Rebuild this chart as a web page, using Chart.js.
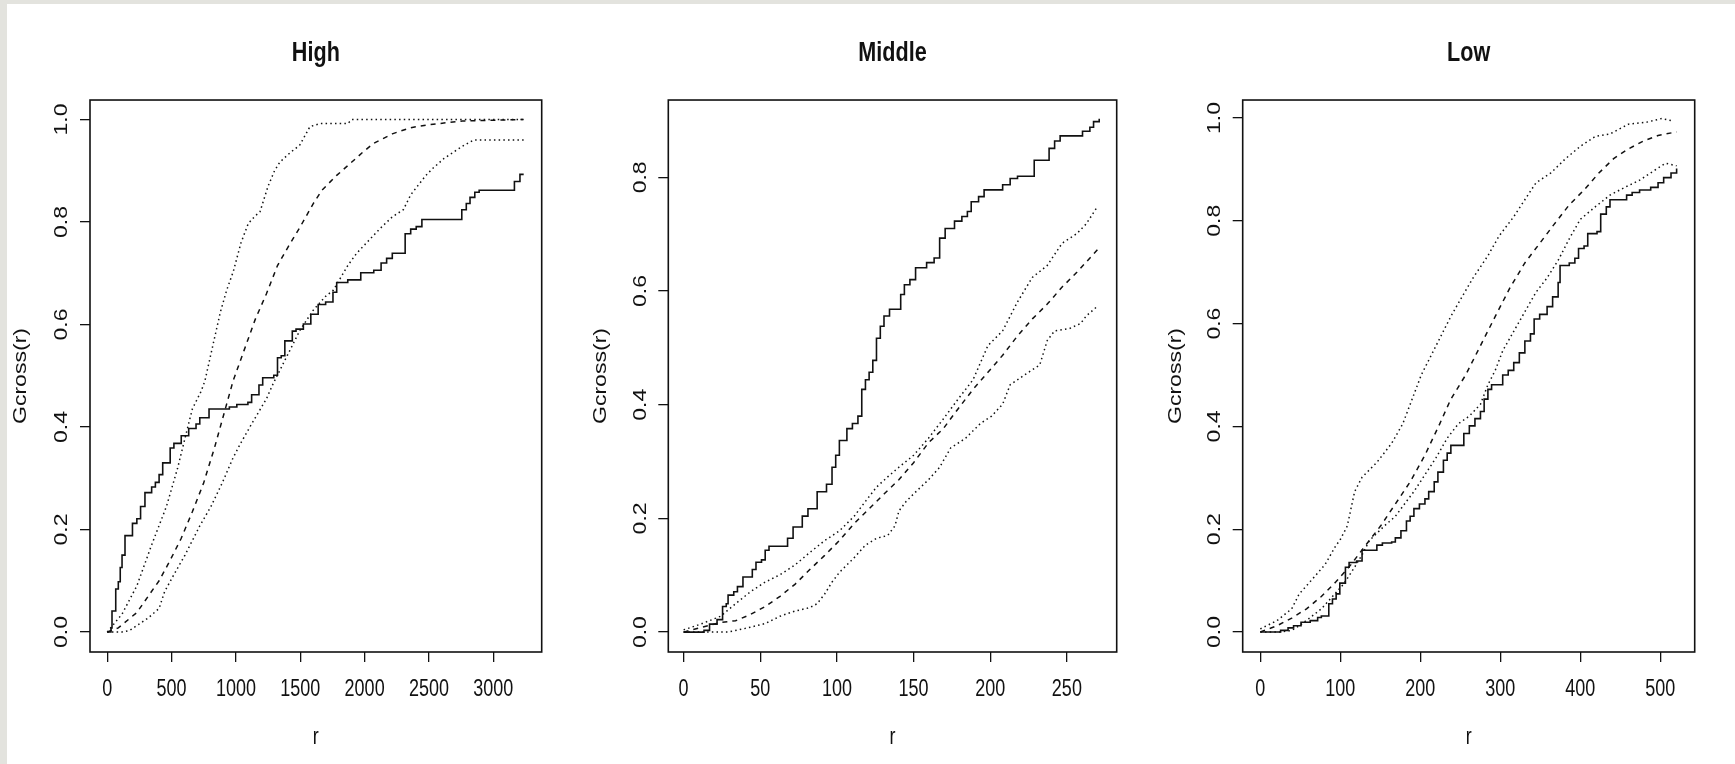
<!DOCTYPE html>
<html lang="en">
<head>
  <meta charset="UTF-8">
  <title>Gcross(r) envelopes</title>
  <style>
    html, body {
      margin: 0;
      padding: 0;
    }
    body {
      width: 1735px;
      height: 764px;
      background: #e3e3de; /* window frame grey */
      position: relative;
      overflow: hidden;
    }
    .sheet {
      position: absolute;
      left: 7px;
      top: 4px;
      right: 0;
      bottom: 0;
      background: #ffffff;
    }
    canvas {
      position: absolute;
      top: 0;
    }
  </style>
</head>
<body>
  <div class="sheet"></div>
  <canvas id="high" width="578" height="764" style="left:0px"></canvas>
  <canvas id="middle" width="578" height="764" style="left:578px"></canvas>
  <canvas id="low" width="579" height="764" style="left:1156px"></canvas>

  <script src="https://cdn.jsdelivr.net/npm/chart.js"></script>
  <script>
    // tick values
    const highXTicks = [0, 500, 1000, 1500, 2000, 2500, 3000];
    const midXTicks = [0, 50, 100, 150, 200, 250];
    const lowXTicks = [0, 100, 200, 300, 400, 500];
    const gTicks = [0, 0.2, 0.4, 0.6, 0.8, 1.0];
    const midGTicks = [0, 0.2, 0.4, 0.6, 0.8];

    // ---- High ----
    const highObsR = [0, 29, 37, 66, 86, 101, 115, 138, 196, 230, 259, 293, 345, 374, 403, 431, 489, 518, 575, 633, 690, 719, 791, 949, 1007, 1093, 1122, 1179, 1208, 1294, 1323, 1352, 1380, 1438, 1467, 1524, 1582, 1639, 1697, 1754, 1783, 1869, 1970, 2071, 2128, 2171, 2215, 2315, 2358, 2401, 2445, 2755, 2790, 2819, 2856, 2890, 3164, 3207, 3236];
    const highObsG = [0, 0.008, 0.041, 0.084, 0.098, 0.126, 0.150, 0.188, 0.212, 0.221, 0.245, 0.272, 0.283, 0.292, 0.307, 0.330, 0.359, 0.368, 0.383, 0.397, 0.406, 0.418, 0.435, 0.439, 0.444, 0.448, 0.463, 0.482, 0.496, 0.501, 0.535, 0.539, 0.568, 0.587, 0.591, 0.601, 0.620, 0.639, 0.644, 0.663, 0.682, 0.687, 0.701, 0.706, 0.720, 0.729, 0.739, 0.777, 0.786, 0.791, 0.805, 0.824, 0.836, 0.848, 0.858, 0.862, 0.879, 0.893, 0.893];
    const highTheoR = [0, 86, 230, 316, 403, 489, 575, 662, 748, 834, 906, 978, 1064, 1150, 1237, 1323, 1407, 1498, 1601, 1668, 1783, 1860, 1990, 2067, 2215, 2358, 2502, 2761, 3236];
    const highTheoG = [0, 0.008, 0.038, 0.069, 0.10, 0.14, 0.183, 0.235, 0.29, 0.36, 0.425, 0.49, 0.55, 0.61, 0.66, 0.715, 0.752, 0.79, 0.836, 0.862, 0.891, 0.908, 0.937, 0.953, 0.972, 0.984, 0.99, 0.997, 1.0];
    const highHiR = [0, 115, 230, 345, 460, 547, 604, 661, 730, 759, 824, 880, 928, 979, 1040, 1096, 1150, 1187, 1250, 1300, 1342, 1420, 1496, 1575, 1653, 1869, 1900, 3236];
    const highHiG = [0, 0.035, 0.09, 0.17, 0.245, 0.32, 0.378, 0.435, 0.47, 0.49, 0.563, 0.625, 0.667, 0.703, 0.76, 0.797, 0.812, 0.82, 0.87, 0.90, 0.917, 0.935, 0.95, 0.986, 0.992, 0.992, 1.0, 1.0];
    const highLoR = [0, 115, 173, 316, 403, 446, 518, 604, 719, 806, 892, 978, 1036, 1122, 1237, 1290, 1368, 1446, 1498, 1601, 1697, 1757, 1869, 1938, 2119, 2215, 2301, 2358, 2473, 2531, 2617, 2761, 2847, 3236];
    const highLoG = [0, 0, 0.003, 0.027, 0.046, 0.079, 0.112, 0.15, 0.207, 0.245, 0.29, 0.34, 0.368, 0.406, 0.455, 0.485, 0.524, 0.563, 0.589, 0.628, 0.655, 0.667, 0.715, 0.739, 0.787, 0.81, 0.824, 0.853, 0.89, 0.905, 0.924, 0.948, 0.96, 0.96];

    // ---- Middle ----
    const midObsR = [0, 13.3, 16.9, 21.8, 25.4, 27.8, 29.0, 32.7, 35.1, 38.7, 44.8, 47.2, 50.8, 53.2, 55.7, 67.8, 71.4, 77.4, 81.1, 87.1, 93.2, 96.8, 99.2, 101.6, 106.5, 110.1, 113.7, 116.2, 118.6, 121.0, 123.4, 125.8, 128.3, 130.7, 134.3, 141.6, 144.0, 147.6, 151.3, 158.5, 163.4, 167.0, 170.6, 176.7, 181.5, 185.1, 187.6, 192.4, 196.0, 208.1, 213.0, 217.8, 228.7, 238.4, 242.0, 245.6, 260.2, 265.0, 267.4, 271.1];
    const midObsG = [0, 0.003, 0.014, 0.022, 0.045, 0.05, 0.065, 0.071, 0.08, 0.097, 0.11, 0.123, 0.127, 0.144, 0.151, 0.165, 0.185, 0.204, 0.217, 0.247, 0.26, 0.29, 0.311, 0.337, 0.358, 0.367, 0.38, 0.427, 0.444, 0.457, 0.478, 0.517, 0.538, 0.556, 0.568, 0.594, 0.611, 0.62, 0.641, 0.65, 0.658, 0.693, 0.71, 0.723, 0.731, 0.74, 0.757, 0.766, 0.778, 0.787, 0.798, 0.802, 0.83, 0.851, 0.864, 0.873, 0.881, 0.888, 0.898, 0.903];
    const midTheoR = [0, 9.7, 24.2, 33.9, 43.6, 53.2, 62.9, 72.6, 82.3, 92.0, 101.6, 111.3, 121.0, 130.7, 140.4, 150.0, 159.7, 169.4, 179.1, 188.8, 198.5, 208.1, 217.8, 227.5, 237.2, 246.9, 256.5, 271.1];
    const midTheoG = [0, 0.007, 0.017, 0.02, 0.031, 0.045, 0.063, 0.084, 0.11, 0.135, 0.161, 0.191, 0.217, 0.243, 0.268, 0.298, 0.333, 0.358, 0.393, 0.427, 0.457, 0.487, 0.521, 0.551, 0.577, 0.607, 0.633, 0.676];
    const midHiR = [0, 1.2, 12.1, 24.2, 33.9, 43.6, 53.2, 62.9, 72.6, 82.3, 92.0, 101.6, 111.3, 118.6, 125.8, 133.1, 140.4, 150.0, 159.7, 169.4, 179.1, 188.8, 198.5, 208.1, 217.8, 227.5, 237.2, 246.9, 256.5, 262.6, 269.8];
    const midHiG = [0.004, 0.005, 0.015, 0.028, 0.05, 0.071, 0.088, 0.101, 0.118, 0.14, 0.161, 0.178, 0.204, 0.23, 0.255, 0.273, 0.29, 0.311, 0.341, 0.375, 0.41, 0.444, 0.504, 0.53, 0.581, 0.624, 0.645, 0.684, 0.701, 0.718, 0.748];
    const midLoR = [0, 29.0, 41.1, 53.2, 62.9, 72.6, 82.3, 87.1, 92.0, 96.8, 101.6, 111.3, 118.6, 125.8, 133.1, 137.9, 140.4, 145.2, 150.0, 159.7, 167.0, 174.2, 183.9, 193.6, 200.9, 208.1, 213.0, 222.7, 232.3, 237.2, 242.0, 251.7, 259.0, 262.6, 269.8];
    const midLoG = [0, 0, 0.007, 0.015, 0.028, 0.037, 0.043, 0.05, 0.067, 0.088, 0.105, 0.131, 0.153, 0.165, 0.17, 0.187, 0.213, 0.23, 0.243, 0.268, 0.29, 0.324, 0.341, 0.367, 0.38, 0.401, 0.435, 0.453, 0.47, 0.513, 0.53, 0.534, 0.543, 0.556, 0.573];

    // ---- Low ----
    const lowObsR = [0, 25.4, 34.7, 41.6, 50.9, 62.4, 71.7, 76.3, 85.6, 90.2, 94.8, 99.4, 106.4, 111.0, 120.3, 127.2, 145.7, 152.6, 164.2, 168.8, 175.8, 182.7, 187.3, 192.0, 198.9, 205.8, 210.5, 217.4, 222.0, 228.9, 233.6, 238.2, 254.4, 261.3, 268.3, 275.2, 279.8, 284.5, 289.1, 303.0, 309.9, 316.8, 323.8, 330.7, 337.7, 342.3, 349.2, 358.5, 365.4, 372.3, 374.7, 386.2, 393.2, 397.8, 404.7, 409.3, 420.9, 425.5, 432.5, 437.1, 457.9, 464.8, 474.1, 488.0, 497.2, 504.2, 513.4, 520.4];
    const lowObsG = [0, 0.003, 0.008, 0.012, 0.019, 0.022, 0.028, 0.031, 0.055, 0.064, 0.074, 0.095, 0.126, 0.135, 0.138, 0.159, 0.169, 0.173, 0.175, 0.183, 0.197, 0.216, 0.225, 0.24, 0.249, 0.259, 0.273, 0.292, 0.311, 0.334, 0.348, 0.363, 0.386, 0.401, 0.415, 0.429, 0.453, 0.472, 0.481, 0.5, 0.509, 0.524, 0.543, 0.566, 0.58, 0.609, 0.618, 0.633, 0.652, 0.68, 0.713, 0.718, 0.727, 0.746, 0.751, 0.775, 0.779, 0.813, 0.827, 0.841, 0.85, 0.855, 0.86, 0.865, 0.874, 0.884, 0.893, 0.902];
    const lowTheoR = [0, 20.8, 39.3, 57.8, 76.3, 94.8, 113.3, 131.8, 150.3, 168.8, 187.3, 205.8, 224.3, 238.2, 256.7, 275.2, 293.7, 312.2, 330.7, 349.2, 367.7, 386.2, 404.7, 423.2, 441.7, 460.2, 478.7, 497.2, 520.4];
    const lowTheoG = [0, 0.012, 0.027, 0.045, 0.069, 0.098, 0.131, 0.169, 0.206, 0.249, 0.292, 0.344, 0.405, 0.453, 0.5, 0.557, 0.614, 0.67, 0.718, 0.756, 0.794, 0.831, 0.86, 0.893, 0.921, 0.94, 0.955, 0.966, 0.973];
    const lowHiR = [0, 20.8, 39.3, 48.6, 62.4, 80.9, 94.8, 99.4, 108.7, 117.9, 127.2, 145.7, 164.2, 178.1, 192.0, 201.2, 219.7, 238.2, 252.1, 266.0, 284.5, 298.3, 316.8, 330.7, 344.6, 363.1, 381.6, 400.1, 418.6, 437.1, 460.2, 483.3, 501.8, 513.4];
    const lowHiG = [0.006, 0.022, 0.045, 0.074, 0.098, 0.131, 0.169, 0.178, 0.206, 0.273, 0.301, 0.33, 0.367, 0.405, 0.462, 0.5, 0.557, 0.614, 0.652, 0.689, 0.732, 0.77, 0.808, 0.841, 0.874, 0.893, 0.921, 0.945, 0.964, 0.969, 0.988, 0.992, 0.999, 0.995];
    const lowLoR = [0, 25.4, 39.3, 48.6, 62.4, 76.3, 90.2, 104.1, 117.9, 127.2, 136.4, 145.7, 154.9, 168.8, 182.7, 192.0, 205.8, 219.7, 233.6, 247.5, 261.3, 275.2, 284.5, 293.7, 303.0, 316.8, 330.7, 344.6, 358.5, 372.3, 386.2, 400.1, 418.6, 437.1, 455.6, 474.1, 492.6, 506.5, 520.4];
    const lowLoG = [0, 0, 0.003, 0.012, 0.028, 0.045, 0.069, 0.093, 0.126, 0.15, 0.178, 0.192, 0.206, 0.225, 0.254, 0.273, 0.306, 0.339, 0.377, 0.405, 0.42, 0.443, 0.481, 0.509, 0.547, 0.585, 0.623, 0.661, 0.689, 0.723, 0.765, 0.803, 0.827, 0.85, 0.865, 0.879, 0.898, 0.912, 0.907];

    const FONT = '"Liberation Sans", Arial, sans-serif';
    const INK = '#111';
    const STRETCH = 1.28; // the reference's lettering is taller than it is wide

    Chart.defaults.font.family = FONT;
    Chart.defaults.font.size = 18;
    Chart.defaults.color = INK;

    // stretch every piece of text vertically (screen space) around its anchor
    function tallText(ctx) {
      const fill = ctx.fillText;
      ctx.fillText = function (text, x, y, maxWidth) {
        const m = this.getTransform();
        const ay = m.b * x + m.d * y + m.f;
        this.save();
        this.setTransform(1, 0, 0, STRETCH, 0, ay * (1 - STRETCH));
        this.transform(m.a, m.b, m.c, m.d, m.e, m.f);
        if (maxWidth === undefined) fill.call(this, text, x, y);
        else fill.call(this, text, x, y, maxWidth);
        this.restore();
      };
    }

    // R style box round the plot region
    const boxPlugin = {
      id: 'box',
      afterDatasetsDraw(chart) {
        const { ctx, chartArea: a } = chart;
        ctx.save();
        ctx.strokeStyle = INK;
        ctx.lineWidth = 1.6;
        ctx.strokeRect(a.left, a.top, a.right - a.left, a.bottom - a.top);
        ctx.restore();
      }
    };

    function series(r, g, dash, width, stepped) {
      return {
        data: r.map((v, i) => ({ x: v, y: g[i] })),
        borderColor: INK,
        borderWidth: width,
        borderDash: dash,
        stepped: stepped,
        pointRadius: 0,
        tension: 0,
        fill: false
      };
    }

    function drawPanel(id, title, p) {
      const ctx = document.getElementById(id).getContext('2d');
      tallText(ctx);

      new Chart(ctx, {
        type: 'line',
        data: {
          datasets: [
            series(p.hiR, p.hiG, [1.5, 3.2], 1.5, false),
            series(p.loR, p.loG, [1.5, 3.2], 1.5, false),
            series(p.theoR, p.theoG, [5, 5], 1.5, false),
            series(p.obsR, p.obsG, [], 1.6, true)
          ]
        },
        options: {
          responsive: false,
          animation: false,
          events: [],
          layout: { padding: { left: 0, right: p.padRight, top: 0, bottom: 0 } },
          plugins: {
            legend: { display: false },
            tooltip: { enabled: false },
            title: {
              display: true,
              text: title,
              fullSize: false,
              color: INK,
              font: { size: 21.6, weight: 'bold' },
              padding: { top: 40.6, bottom: 33.5 }
            }
          },
          scales: {
            x: {
              type: 'linear',
              min: p.xMin,
              max: p.xMax,
              border: { display: false },
              grid: { drawOnChartArea: false, drawTicks: true, tickLength: 10, color: INK, lineWidth: 1.3 },
              ticks: {
                autoSkip: false,
                maxRotation: 0,
                padding: 17,
                color: INK,
                callback: v => String(v)
              },
              afterBuildTicks(s) { s.ticks = p.xTicks.map(v => ({ value: v })); },
              title: { display: true, text: 'r', color: INK, padding: { top: 0, bottom: 16 } },
              afterFit(s) { s.height = 112; }
            },
            y: {
              type: 'linear',
              min: p.yMin,
              max: p.yMax,
              border: { display: false },
              grid: { drawOnChartArea: false, drawTicks: true, tickLength: 10, color: INK, lineWidth: 1.3 },
              ticks: {
                autoSkip: false,
                minRotation: 90,
                maxRotation: 90,
                crossAlign: 'center',
                padding: 5,
                color: INK,
                callback: v => v.toFixed(1)
              },
              afterBuildTicks(s) { s.ticks = p.yTicks.map(v => ({ value: v })); },
              title: { display: true, text: 'Gcross(r)', color: INK, padding: { top: p.titlePad, bottom: 0 } },
              afterFit(s) { s.width = p.yWidth; }
            }
          }
        },
        plugins: [boxPlugin]
      });
    }

    drawPanel('high', 'High', {
      obsR: highObsR, obsG: highObsG, theoR: highTheoR, theoG: highTheoG,
      hiR: highHiR, hiG: highHiG, loR: highLoR, loG: highLoG,
      xTicks: highXTicks, yTicks: gTicks,
      xMin: -134, xMax: 3376, yMin: -0.039, yMax: 1.038,
      yWidth: 90, padRight: 36.3, titlePad: 10.2
    });

    drawPanel('middle', 'Middle', {
      obsR: midObsR, obsG: midObsG, theoR: midTheoR, theoG: midTheoG,
      hiR: midHiR, hiG: midHiG, loR: midLoR, loG: midLoG,
      xTicks: midXTicks, yTicks: midGTicks,
      xMin: -10, xMax: 282.5, yMin: -0.035, yMax: 0.936,
      yWidth: 90.3, padRight: 39.3, titlePad: 12.2
    });

    drawPanel('low', 'Low', {
      obsR: lowObsR, obsG: lowObsG, theoR: lowTheoR, theoG: lowTheoG,
      hiR: lowHiR, hiG: lowHiG, loR: lowLoR, loG: lowLoG,
      xTicks: lowXTicks, yTicks: gTicks,
      xMin: -22, xMax: 543, yMin: -0.039, yMax: 1.035,
      yWidth: 86.7, padRight: 40.3, titlePad: 9.2
    });
  </script>
</body>
</html>
